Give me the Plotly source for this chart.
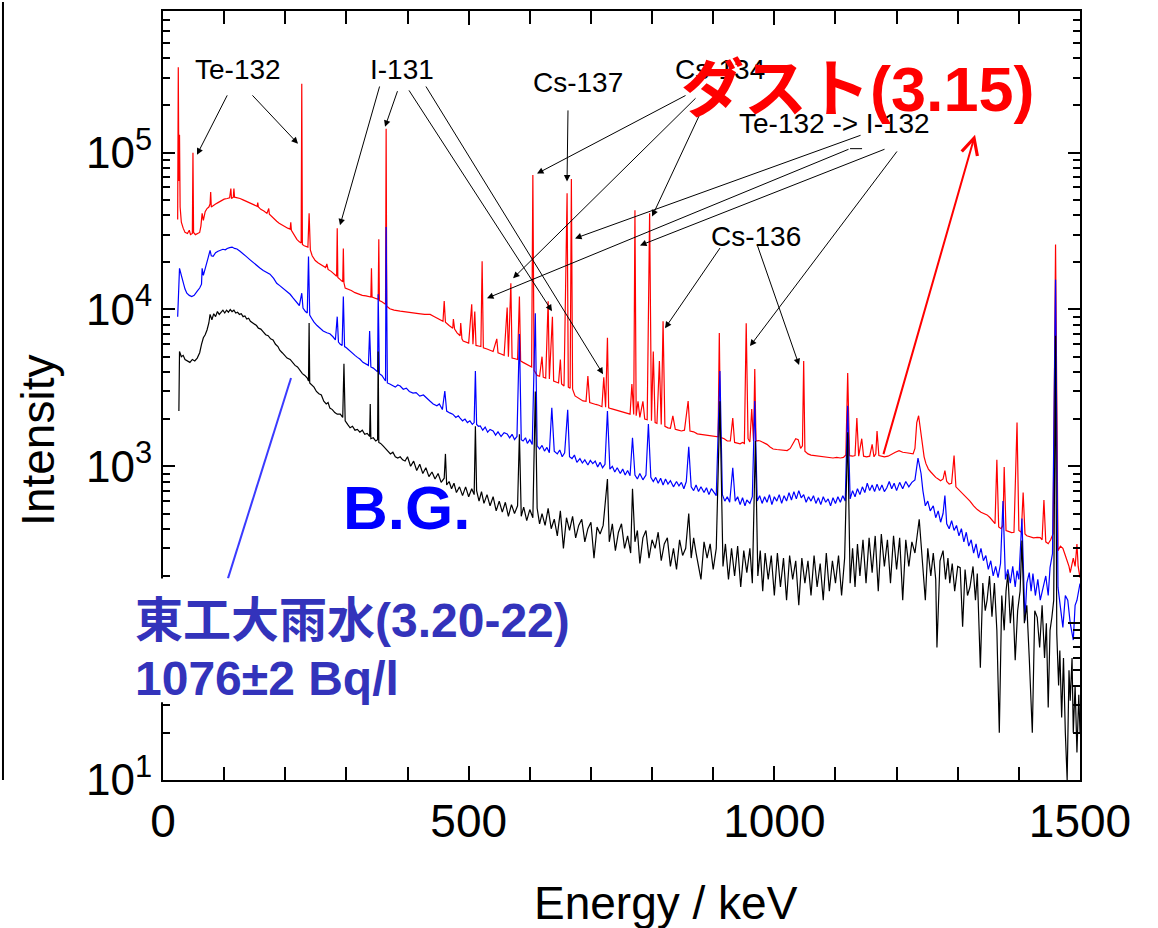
import numpy as np
import plotly.graph_objects as go

# ---------------- data (energy in keV, counts) ----------------
# red: dust sample (3.15)
dust_keV = [
    24, 25, 26, 27, 28, 30, 33, 36, 40, 43,
    45, 48, 49, 50, 53, 56, 60, 62, 64, 66,
    69, 72, 75, 77, 78, 79, 82, 86, 90, 95,
    100, 105, 109, 111, 112, 115, 116, 117, 121, 126,
    131, 136, 142, 148, 154, 155, 156, 160, 165, 170,
    173, 174, 178, 182, 186, 190, 195, 200, 204, 208,
    209, 210, 214, 219, 223, 226, 227, 228, 231, 235,
    237, 239, 241, 244, 249, 254, 258, 262, 266, 268,
    270, 275, 280, 284, 285, 286, 290, 294, 295, 296,
    298, 303, 308, 314, 320, 326, 332, 337, 340, 341,
    342, 347, 352, 353, 354, 358, 362, 364, 365, 366,
    371, 378, 388, 398, 408, 418, 428, 437, 444, 450,
    455, 458, 460, 462, 468, 474, 475, 477, 481, 486,
    487, 489, 491, 496, 500, 505, 507, 510, 512, 516,
    520, 522, 524, 530, 535, 540, 546, 548, 553, 558,
    563, 565, 569, 571, 576, 580, 583, 585, 589, 594,
    599, 603, 605, 607, 612, 616, 620, 622, 626, 630,
    632, 637, 639, 643, 647, 650, 652, 656, 661, 663,
    666, 668, 670, 674, 678, 683, 687, 692, 695, 698,
    703, 708, 713, 718, 721, 724, 727, 729, 733, 738,
    743, 748, 753, 759, 764, 767, 770, 772, 774, 777,
    780, 785, 788, 792, 796, 799, 802, 805, 808, 812,
    815, 818, 821, 826, 830, 834, 838, 843, 848, 853,
    859, 862, 868, 874, 880, 886, 892, 898, 903, 908,
    910, 912, 918, 923, 928, 932, 935, 940, 944, 948,
    951, 954, 957, 960, 963, 966, 968, 970, 974, 977,
    982, 988, 993, 998, 1004, 1010, 1016, 1021, 1026, 1031,
    1035, 1039, 1043, 1046, 1048, 1050, 1055, 1060, 1066, 1072,
    1078, 1084, 1090, 1096, 1102, 1108, 1113, 1117, 1120, 1123,
    1128, 1132, 1135, 1138, 1143, 1146, 1151, 1156, 1160, 1163,
    1166, 1168, 1171, 1175, 1180, 1186, 1192, 1198, 1204, 1210,
    1216, 1222, 1227, 1230, 1233, 1236, 1239, 1242, 1245, 1248,
    1252, 1256, 1260, 1264, 1268, 1272, 1276, 1279, 1282, 1286,
    1290, 1294, 1297, 1300, 1305, 1310, 1315, 1320, 1326, 1332,
    1338, 1343, 1348, 1353, 1358, 1361, 1364, 1367, 1371, 1374,
    1376, 1379, 1383, 1388, 1392, 1397, 1400, 1404, 1407, 1410,
    1413, 1418, 1424, 1430, 1435, 1438, 1441, 1444, 1448, 1452,
    1456, 1460, 1464, 1468, 1472, 1476, 1479, 1482, 1484, 1487,
    1489, 1492, 1495, 1497, 1500,
]
dust_counts = [
    37500, 350000, 66000, 130000, 45000, 36000, 33000, 31000, 30500, 32000,
    30000, 30500, 100000, 31000, 30000, 30500, 31000, 34000, 41000, 37000,
    42000, 44000, 45000, 47000, 56000, 45000, 46000, 47000, 48000, 49500,
    50500, 51000, 51500, 59000, 51000, 52000, 59000, 52000, 51700, 51000,
    50000, 49000, 48000, 46500, 45500, 48000, 45000, 43500, 42500, 41000,
    44000, 40500, 39000, 37500, 36500, 35500, 34500, 33500, 33000, 32500,
    36000, 32000, 30000, 28000, 27000, 26500, 275000, 26000, 25500, 25000,
    25000, 41000, 24000, 22000, 20500, 19800, 19400, 19000, 18500, 19500,
    18000, 17500, 16800, 16300, 33000, 16000, 15500, 15000, 24500, 14800,
    13700, 13500, 13200, 12800, 12500, 12300, 12200, 12000, 12000, 18300,
    12000, 11800, 11600, 28000, 11400, 11200, 11000, 10800, 142000, 10500,
    10100, 9900, 9750, 9600, 9500, 9400, 9300, 9300, 9000, 8700,
    8500, 8400, 11300, 8300, 7900, 7600, 8700, 7500, 7100, 6800,
    8200, 6500, 6300, 6200, 6100, 10800, 6000, 9700, 5900, 5850,
    5800, 20300, 5700, 5600, 5500, 5400, 6500, 5300, 5200, 5100,
    10300, 5000, 14700, 4900, 4850, 4800, 12100, 4700, 4600, 4500,
    4400, 4300, 72000, 4100, 3800, 3750, 5000, 3700, 3650, 11300,
    3600, 9000, 3500, 3450, 3400, 4800, 3350, 3250, 55000, 3200,
    3150, 68000, 3100, 2810, 2750, 2680, 2610, 2600, 3760, 2550,
    2500, 2480, 2450, 2400, 3700, 2380, 6600, 2360, 2330, 2300,
    2250, 2220, 2200, 2160, 2150, 3350, 2140, 43000, 2100, 2600,
    2050, 2600, 2000, 1980, 41000, 1950, 5400, 1900, 1880, 4700,
    1850, 8400, 1800, 1760, 1750, 2100, 1720, 1700, 1680, 1700,
    2610, 1680, 1660, 1610, 1600, 1580, 1570, 1560, 1550, 1540,
    7070, 1530, 1500, 1450, 1450, 2030, 1420, 1400, 1390, 1420,
    1400, 8180, 1500, 1430, 2320, 1450, 4170, 1450, 1460, 1450,
    1420, 1380, 1330, 1290, 1280, 1270, 1260, 1260, 1300, 1420,
    1500, 1480, 1300, 1350, 4690, 1250, 1200, 1180, 1170, 1160,
    1150, 1140, 1140, 1130, 1140, 1130, 1140, 1180, 3930, 1170,
    1160, 1170, 2030, 1160, 1500, 1160, 1150, 1160, 1380, 1150,
    1200, 1680, 1170, 1160, 1150, 1160, 1200, 1230, 1260, 1230,
    1220, 1210, 1200, 1300, 1900, 2100, 1750, 1450, 1150, 1040,
    960, 920, 880, 850, 830, 810, 830, 940, 800, 770,
    780, 1170, 740, 720, 680, 650, 630, 600, 560, 530,
    510, 500, 490, 470, 440, 431, 1100, 410, 400, 420,
    990, 390, 385, 378, 380, 1900, 390, 380, 680, 370,
    361, 355, 350, 352, 351, 340, 610, 330, 321, 340,
    372, 26000, 290, 310, 300, 270, 251, 230, 210, 240,
    260, 230, 320, 230, 195,
]

# blue: Tokyo Tech rain water (3.20-22)
rain_keV = [
    24, 27, 30, 33, 36, 39, 43, 47, 51, 56,
    60, 63, 64, 66, 69, 72, 74, 77, 79, 82,
    86, 90, 94, 98, 102, 105, 109, 113, 117, 121,
    126, 131, 136, 142, 148, 153, 159, 164, 170, 175,
    181, 186, 191, 196, 202, 208, 213, 219, 223, 227,
    229, 233, 236, 238, 240, 243, 247, 252, 257, 262,
    268, 273, 278, 282, 285, 287, 290, 293, 295, 297,
    300, 304, 309, 314, 318, 322, 327, 332, 336, 338,
    340, 344, 348, 351, 352, 354, 358, 362, 364, 365,
    367, 371, 375, 380, 384, 388, 393, 398, 403, 409,
    414, 420, 426, 432, 437, 442, 448, 452, 457, 461,
    464, 469, 474, 479, 483, 486, 490, 494, 498, 502,
    506, 509, 511, 513, 516, 519, 523, 527, 531, 535,
    540, 544, 548, 553, 558, 563, 567, 571, 575, 579,
    583, 586, 589, 593, 596, 600, 604, 609, 612, 616,
    620, 624, 628, 632, 636, 640, 645, 649, 653, 657,
    662, 665, 669, 673, 677, 682, 686, 690, 695, 699,
    703, 707, 711, 715, 719, 723, 727, 731, 735, 739,
    743, 748, 752, 756, 760, 764, 768, 772, 776, 780,
    785, 790, 794, 798, 802, 806, 810, 814, 818, 822,
    826, 830, 835, 840, 844, 848, 852, 856, 860, 864,
    868, 872, 876, 880, 885, 889, 893, 897, 901, 905,
    911, 915, 919, 923, 927, 932, 936, 940, 944, 948,
    952, 955, 960, 964, 968, 972, 976, 980, 984, 988,
    992, 996, 1000, 1004, 1008, 1012, 1016, 1020, 1024, 1028,
    1032, 1036, 1040, 1044, 1048, 1052, 1056, 1060, 1064, 1068,
    1072, 1076, 1080, 1084, 1088, 1092, 1096, 1100, 1104, 1108,
    1112, 1116, 1120, 1124, 1128, 1132, 1136, 1140, 1144, 1148,
    1152, 1156, 1160, 1164, 1168, 1172, 1176, 1180, 1184, 1188,
    1192, 1196, 1200, 1205, 1210, 1215, 1220, 1225, 1230, 1235,
    1240, 1243, 1247, 1251, 1255, 1260, 1264, 1268, 1272, 1276,
    1279, 1282, 1286, 1290, 1294, 1298, 1302, 1306, 1310, 1314,
    1318, 1322, 1326, 1330, 1334, 1338, 1342, 1346, 1350, 1354,
    1358, 1362, 1366, 1370, 1374, 1378, 1382, 1386, 1390, 1394,
    1397, 1400, 1405, 1408, 1410, 1413, 1417, 1420, 1423, 1427,
    1431, 1435, 1440, 1444, 1448, 1451, 1455, 1460, 1464, 1468,
    1472, 1476, 1480, 1484, 1489, 1492, 1495, 1500,
]
rain_counts = [
    9000, 18300, 16500, 14700, 13500, 12700, 12300, 12100, 12300, 13100,
    13700, 14500, 18300, 16500, 18500, 20500, 21500, 23800, 22000, 21800,
    23000, 23500, 23800, 24200, 24000, 24500, 24800, 25000, 24500, 24300,
    23500, 22500, 21800, 20800, 19800, 19000, 18300, 17700, 17200, 16800,
    15800, 14700, 14200, 13700, 13000, 12500, 11800, 11000, 10600, 12700,
    10200, 9700, 9500, 21800, 9200, 8800, 8300, 7900, 7600, 7300,
    7100, 7000, 6700, 6400, 9000, 6200, 6000, 5900, 12100, 5800,
    5700, 5500, 5300, 5100, 4950, 4830, 4600, 4500, 4400, 7300,
    4300, 4230, 4100, 4000, 12500, 3900, 3800, 3600, 3500, 33600,
    3400, 3350, 3300, 3200, 3300, 3250, 3100, 3150, 3000, 2930,
    2950, 2800, 2850, 2690, 2600, 2500, 2430, 2500, 2300, 3020,
    2250, 2190, 2150, 2050, 2100, 2030, 1950, 2000, 1900, 1950,
    1850, 1900, 4050, 1850, 1800, 1810, 1700, 1780, 1650, 1720,
    1680, 1580, 1660, 1550, 1640, 1610, 1520, 1600, 1480, 1550,
    6970, 1480, 1450, 1520, 1400, 1480, 1380, 9470, 1350, 1290,
    1360, 1250, 1320, 1220, 2360, 1250, 1200, 1270, 1150, 1220,
    2290, 1150, 1120, 1180, 1060, 1120, 1050, 1100, 1020, 1090,
    1040, 1080, 990, 1060, 980, 1030, 2250, 960, 1000, 920,
    980, 900, 960, 880, 940, 870, 1520, 880, 830, 900,
    820, 880, 1860, 850, 800, 850, 780, 840, 760, 830,
    770, 810, 740, 800, 750, 790, 720, 800, 1330, 740,
    700, 760, 690, 740, 680, 730, 660, 720, 680, 650,
    4050, 660, 600, 640, 590, 980, 600, 640, 570, 630,
    560, 610, 580, 640, 2610, 600, 650, 580, 640, 590,
    660, 570, 640, 600, 660, 580, 650, 600, 680, 610,
    690, 620, 700, 630, 660, 590, 640, 600, 650, 580,
    630, 570, 640, 590, 620, 560, 630, 580, 640, 590,
    650, 600, 2430, 620, 700, 640, 720, 660, 740, 680,
    780, 700, 760, 690, 770, 700, 760, 690, 730, 800,
    720, 780, 700, 790, 720, 800, 740, 790, 820, 1130,
    900, 700, 560, 600, 520, 560, 470, 520, 440, 500,
    650, 430, 400, 450, 390, 420, 360, 400, 330, 380,
    310, 340, 280, 320, 260, 300, 250, 270, 220, 250,
    200, 230, 195, 240, 600, 190, 220, 180, 230, 170,
    216, 190, 464, 150, 104, 180, 210, 160, 207, 150,
    190, 140, 169, 200, 150, 226, 278, 15500, 169, 120,
    94, 150, 140, 100, 78, 130, 140, 179,
]

# black: background (B.G.)
bg_keV = [
    26, 27, 30, 33, 36, 40, 44, 48, 52, 56,
    60, 63, 66, 69, 72, 75, 77, 80, 83, 86,
    89, 92, 95, 98, 101, 104, 107, 110, 113, 116,
    119, 122, 125, 128, 131, 134, 137, 140, 143, 147,
    150, 153, 156, 160, 164, 168, 172, 176, 180, 184,
    188, 191, 195, 199, 203, 208, 212, 216, 220, 224,
    228, 232, 236, 238, 239, 240, 243, 247, 251, 255,
    259, 263, 267, 270, 273, 277, 281, 285, 290, 294,
    296, 298, 302, 306, 310, 314, 318, 322, 326, 330,
    334, 338, 339, 340, 344, 348, 351, 352, 353, 356,
    360, 364, 368, 372, 376, 380, 384, 388, 392, 396,
    400, 405, 410, 415, 420, 425, 430, 435, 440, 445,
    450, 455, 460, 462, 464, 468, 472, 476, 480, 485,
    490, 495, 500, 505, 509, 511, 513, 517, 521, 525,
    530, 535, 540, 545, 550, 555, 560, 565, 570, 575,
    580, 583, 586, 590, 595, 600, 605, 609, 612, 616,
    620, 625, 630, 635, 640, 645, 650, 655, 660, 665,
    670, 675, 680, 685, 690, 695, 700, 705, 710, 715,
    720, 727, 730, 735, 740, 745, 750, 755, 760, 765,
    768, 772, 776, 780, 785, 790, 795, 800, 805, 810,
    815, 820, 825, 830, 835, 840, 845, 850, 855, 860,
    864, 868, 872, 876, 880, 885, 890, 895, 900, 905,
    911, 916, 920, 925, 930, 935, 940, 945, 950, 955,
    960, 964, 969, 973, 977, 981, 985, 990, 995, 1000,
    1005, 1010, 1015, 1020, 1025, 1030, 1035, 1040, 1045, 1050,
    1055, 1060, 1065, 1070, 1075, 1080, 1085, 1090, 1095, 1100,
    1105, 1110, 1115, 1120, 1124, 1128, 1132, 1136, 1140, 1145,
    1150, 1155, 1160, 1165, 1170, 1175, 1180, 1185, 1190, 1195,
    1200, 1205, 1210, 1215, 1220, 1225, 1230, 1237, 1242, 1247,
    1251, 1256, 1260, 1264, 1266, 1271, 1276, 1280, 1284, 1287,
    1291, 1295, 1300, 1304, 1308, 1312, 1316, 1320, 1325, 1329,
    1332, 1337, 1341, 1345, 1348, 1352, 1356, 1360, 1364, 1368,
    1372, 1376, 1379, 1382, 1386, 1390, 1394, 1398, 1402, 1405,
    1409, 1413, 1417, 1422, 1426, 1430, 1434, 1438, 1442, 1445,
    1448, 1451, 1454, 1457, 1460, 1462, 1465, 1467, 1470, 1473,
    1476, 1479, 1482, 1484, 1487, 1489, 1492, 1495, 1498, 1500,
]
bg_counts = [
    2250, 5400, 5000, 5100, 4800, 4700, 4600, 4800, 4700, 4900,
    5300, 6000, 6600, 6900, 7400, 8200, 9300, 8600, 9400, 9000,
    9700, 9300, 9600, 9900, 9500, 9900, 9600, 10000, 9700, 9900,
    9500, 9600, 9300, 9400, 9000, 9100, 8700, 8800, 8400, 8200,
    8000, 7900, 7600, 7500, 7200, 6900, 6800, 6500, 6400, 6000,
    5800, 5500, 5300, 5100, 4900, 4800, 4600, 4400, 4300, 4100,
    3900, 3800, 3650, 3500, 8200, 3400, 3300, 3200, 3000, 2900,
    2850, 2600, 2500, 2550, 2350, 2300, 2200, 2150, 2150, 2050,
    4500, 1950, 1850, 1760, 1800, 1700, 1720, 1650, 1700, 1600,
    1620, 1550, 2500, 1500, 1520, 1450, 1480, 5400, 1420, 1400,
    1350, 1300, 1250, 1200, 1230, 1150, 1130, 1150, 1100, 1080,
    1150, 1000, 1080, 940, 1030, 900, 980, 860, 920, 830,
    900, 790, 840, 1200, 760, 800, 720, 780, 680, 740,
    650, 740, 640, 720, 660, 1800, 700, 600, 690, 580,
    660, 560, 640, 520, 600, 510, 590, 480, 570, 500,
    560, 1600, 480, 550, 450, 530, 470, 3000, 540, 430,
    500, 420, 540, 400, 460, 360, 520, 300, 470, 390,
    480, 350, 420, 460, 330, 400, 440, 260, 410, 370,
    420, 830, 330, 430, 290, 380, 430, 300, 360, 280,
    720, 330, 390, 240, 350, 390, 260, 340, 300, 380,
    250, 320, 350, 230, 300, 220, 340, 270, 300, 500,
    260, 350, 280, 230, 190, 330, 260, 320, 220, 300,
    2600, 230, 320, 190, 300, 200, 310, 170, 290, 210,
    300, 180, 1450, 200, 290, 160, 280, 190, 270, 150,
    280, 170, 260, 140, 270, 190, 250, 130, 260, 180,
    250, 150, 270, 170, 240, 140, 280, 160, 250, 180,
    270, 150, 260, 1650, 180, 300, 170, 320, 200, 340,
    180, 350, 210, 360, 160, 370, 230, 340, 180, 360,
    220, 350, 140, 340, 230, 330, 280, 460, 250, 140,
    300, 200, 280, 190, 70, 250, 290, 190, 260, 180,
    240, 160, 230, 226, 95, 220, 150, 170, 230, 140,
    207, 52, 180, 120, 140, 200, 110, 180, 90, 20,
    150, 90, 160, 207, 100, 150, 58, 120, 160, 336,
    100, 130, 60, 20, 120, 109, 70, 130, 60, 100,
    29, 90, 109, 140, 6800, 86, 40, 67, 25, 60,
    20, 10, 50, 32, 60, 20, 40, 15, 35, 20,
]

# axis ticks
x_tick_vals = [0, 500, 1000, 1500]
x_tick_text = ["0", "500", "1000", "1500"]
y_tick_exps = [1, 2, 3, 4, 5]

# nuclide labels: text, energy (keV), counts
label_text = ["Te-132", "I-131", "Cs-137", "Cs-134", "Te-132 -> I-132", "Cs-136"]
label_keV = [122.7, 390.2, 678.9, 911.2, 1097.7, 970.1]
label_counts = [340000, 337000, 279000, 337000, 153000, 29200]

# arrows: head (keV, counts) <- tail (keV, counts)
arrow_head_keV = [55.6, 220.8, 289.5, 363.2, 636.3, 719.8, 660.9,
                  611.8, 572.6, 800.0, 674.0, 530.0, 780.3, 960.2,
                  821.2, 1040.4]
arrow_head_counts = [97000, 114000, 34400, 146000, 9760, 3870, 65500,
                     73500, 15800, 39200, 28400, 11800, 25600, 5840,
                     7600, 4420]
arrow_tail_keV = [106.3, 144.0, 355.0, 384.4, 400.8, 428.6, 662.5,
                  857.2, 873.6, 881.7, 1143.5, 1123.8, 1182.7, 1202.4,
                  912.8, 971.7]
arrow_tail_counts = [237000, 237000, 270000, 252000, 255000, 270000, 190000,
                     234000, 227000, 188000, 130000, 106000, 106000, 104000,
                     25200, 26000]

lg = np.log10
X_MAX = 1500.0
Y_LOG_MIN, Y_LOG_MAX = 1.0, lg(8e5)
FONT = "Liberation Sans, Arial, Noto Sans CJK JP, sans-serif"


def px_(e):
    """energy (keV) -> paper x"""
    return e / X_MAX


def py_(c):
    """counts -> paper y on the log axis"""
    return (lg(c) - Y_LOG_MIN) / (Y_LOG_MAX - Y_LOG_MIN)


fig = go.Figure()
fig.add_trace(go.Scatter(x=dust_keV, y=dust_counts, mode="lines",
                         line=dict(color="#ff0000", width=1.2),
                         showlegend=False, hoverinfo="skip"))
fig.add_trace(go.Scatter(x=rain_keV, y=rain_counts, mode="lines",
                         line=dict(color="#0000ff", width=1.2),
                         showlegend=False, hoverinfo="skip"))
fig.add_trace(go.Scatter(x=bg_keV, y=bg_counts, mode="lines",
                         line=dict(color="#000000", width=1.2),
                         showlegend=False, hoverinfo="skip"))

y_minor = [d * 10 ** k for k in range(1, 6) for d in range(2, 10) if d * 10 ** k <= 8e5]

fig.update_xaxes(range=[0, X_MAX], tickmode="array", tickvals=x_tick_vals,
                 ticktext=x_tick_text, ticks="inside", ticklen=14, tickwidth=1.5,
                 tickcolor="black", showline=True, linecolor="black", linewidth=2,
                 mirror="ticks", showgrid=False, zeroline=False,
                 tickfont=dict(size=46, family=FONT, color="black"),
                 minor=dict(tickmode="linear", tick0=0, dtick=100, ticks="inside",
                            ticklen=13, tickwidth=1.5, tickcolor="black", showgrid=False))
fig.update_yaxes(type="log", range=[Y_LOG_MIN, Y_LOG_MAX], tickmode="array",
                 tickvals=[10 ** e for e in y_tick_exps],
                 ticktext=["10<sup>%d</sup>" % e for e in y_tick_exps],
                 ticks="inside", ticklen=12, tickwidth=1.5, tickcolor="black",
                 showline=True, linecolor="black", linewidth=2, mirror="ticks",
                 showgrid=False, zeroline=False,
                 tickfont=dict(size=44, family=FONT, color="black"),
                 minor=dict(tickmode="array", tickvals=y_minor, ticks="inside",
                            ticklen=7, tickwidth=1.5, tickcolor="black", showgrid=False))

annotations = []
for t, e, c in zip(label_text, label_keV, label_counts):
    annotations.append(dict(x=e, y=lg(c), xref="x", yref="y", text=t, showarrow=False,
                            font=dict(size=28, family=FONT, color="black"),
                            xanchor="center", yanchor="middle"))
for hx, hy, tx, ty in zip(arrow_head_keV, arrow_head_counts, arrow_tail_keV, arrow_tail_counts):
    annotations.append(dict(x=hx, y=lg(hy), ax=tx, ay=lg(ty), xref="x", yref="y",
                            axref="x", ayref="y", text="", showarrow=True,
                            arrowhead=2, arrowsize=1.3, arrowwidth=1, arrowcolor="black",
                            standoff=0, startstandoff=0))
# red arrow to the dust label
annotations.append(dict(x=1328.3, y=lg(130000), ax=1177.8, ay=lg(1170), xref="x", yref="y",
                        axref="x", ayref="y", text="", showarrow=True, arrowhead=5,
                        arrowsize=1.6, arrowwidth=2, arrowcolor="#ff0000",
                        standoff=0, startstandoff=0))
annotations += [
    dict(x=0.758, y=0.899, xref="paper", yref="paper", text="<b>ダスト(3.15)</b>",
         showarrow=False, font=dict(size=63, family=FONT, color="#ff0000"),
         xanchor="center", yanchor="middle"),
    dict(x=0.265, y=0.354, xref="paper", yref="paper", text="<b>B.G.</b>",
         showarrow=False, font=dict(size=62, family=FONT, color="#0000ff"),
         xanchor="center", yanchor="middle"),
    dict(x=-0.1363, y=0.441, xref="paper", yref="paper", text="Intensity",
         showarrow=False, textangle=-90, font=dict(size=46, family=FONT, color="black"),
         xanchor="center", yanchor="middle"),
    dict(x=0.5485, y=-0.1595, xref="paper", yref="paper", text="Energy / keV",
         showarrow=False, font=dict(size=46, family=FONT, color="black"),
         xanchor="center", yanchor="middle"),
    dict(x=-0.0327, y=0.2075, xref="paper", yref="paper", text="<b>東工大雨水(3.20-22)</b>",
         showarrow=False, font=dict(size=48, family=FONT, color="#3333bb"),
         xanchor="left", yanchor="middle"),
    dict(x=-0.0327, y=0.1323, xref="paper", yref="paper", text="<b>1076±2 Bq/l</b>",
         showarrow=False, font=dict(size=48, family=FONT, color="#3333bb"),
         xanchor="left", yanchor="middle"),
]

shapes = [
    # blue pointer from the B.G. spectrum toward the rain-water label
    dict(type="line", xref="paper", yref="paper",
         x0=px_(209.4), y0=py_(3660), x1=px_(106.3), y1=py_(193),
         line=dict(color="#3a3aff", width=2), layer="above"),
    # small horizontal segment under "Te-132 -> I-132"
    dict(type="line", xref="paper", yref="paper",
         x0=px_(1123.8), y0=py_(106000), x1=px_(1143.5), y1=py_(106000),
         line=dict(color="black", width=1), layer="above"),
    # far-left vertical rule
    dict(type="line", xref="paper", yref="paper", x0=-0.1745, y0=0, x1=-0.1745, y1=1.0117,
         line=dict(color="black", width=2), layer="above"),
    # white label box
    dict(type="rect", xref="paper", yref="paper", x0=-0.169, x1=0.4438, y0=0.1012, y1=0.262,
         fillcolor="white", line=dict(width=0), layer="above"),
]

fig.update_layout(width=1158, height=928, margin=dict(l=163, r=78, t=9, b=148),
                  paper_bgcolor="white", plot_bgcolor="white", showlegend=False,
                  font=dict(family=FONT, color="black"),
                  annotations=annotations, shapes=shapes)

fig.write_html("out.html", config={"displayModeBar": False},
               post_script="document.body.style.margin='0px';document.body.style.overflow='hidden';")
